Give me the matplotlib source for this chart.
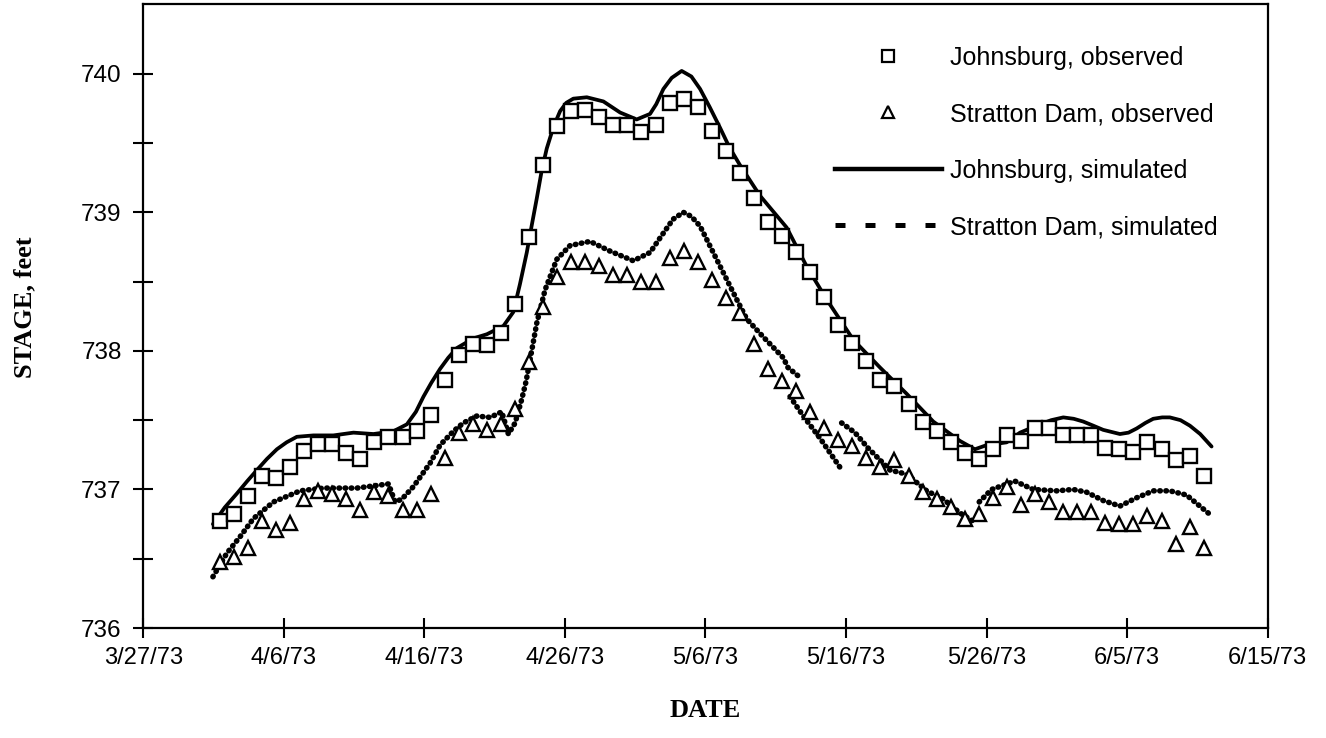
import numpy as np
import matplotlib
matplotlib.use("Agg")
import matplotlib.pyplot as plt
from matplotlib.lines import Line2D

# x values are days after 3/27/73
tick_days = [0, 10, 20, 30, 40, 50, 60, 70, 80]
tick_labels = ["3/27/73", "4/6/73", "4/16/73", "4/26/73", "5/6/73",
               "5/16/73", "5/26/73", "6/5/73", "6/15/73"]

# daily observations, 4/1/73 to 6/10/73
obs_days = np.arange(71) + 5.45

johnsburg_obs = [736.77, 736.82, 736.95, 737.10, 737.08, 737.16, 737.28, 737.33, 737.33, 737.26,
                 737.22, 737.34, 737.38, 737.38, 737.42, 737.54, 737.79, 737.97, 738.05, 738.04,
                 738.13, 738.34, 738.82, 739.34, 739.62, 739.73, 739.74, 739.69, 739.63, 739.63,
                 739.58, 739.63, 739.79, 739.82, 739.76, 739.59, 739.44, 739.28, 739.10, 738.93,
                 738.83, 738.71, 738.57, 738.39, 738.19, 738.06, 737.93, 737.79, 737.75, 737.62,
                 737.49, 737.42, 737.34, 737.26, 737.22, 737.29, 737.39, 737.35, 737.44, 737.44,
                 737.39, 737.39, 737.39, 737.30, 737.29, 737.27, 737.34, 737.29, 737.21, 737.24,
                 737.10]

stratton_obs = [736.48, 736.51, 736.58, 736.77, 736.71, 736.76, 736.93, 736.99, 736.97, 736.93,
                736.85, 736.98, 736.95, 736.85, 736.85, 736.97, 737.23, 737.41, 737.47, 737.43,
                737.47, 737.58, 737.92, 738.32, 738.53, 738.64, 738.64, 738.61, 738.55, 738.55,
                738.50, 738.50, 738.67, 738.72, 738.64, 738.51, 738.38, 738.27, 738.05, 737.87,
                737.78, 737.71, 737.56, 737.44, 737.36, 737.31, 737.23, 737.16, 737.21, 737.10,
                736.98, 736.93, 736.87, 736.79, 736.82, 736.94, 737.02, 736.89, 736.97, 736.91,
                736.84, 736.84, 736.84, 736.76, 736.75, 736.75, 736.81, 736.77, 736.61, 736.73,
                736.58]

johnsburg_sim_days = [4.96, 5.8, 6.66, 7.4, 8.09, 8.8, 9.51, 10.2, 10.93, 12.11, 13.53, 14.96,
                      16.38, 17.80, 18.76, 19.4, 19.94, 20.5, 21.12, 21.7, 22.31, 23.49, 24.45,
                      25.63, 26.33, 26.8, 27.29, 27.65, 28.00, 28.35, 28.71, 29.2, 29.66, 30.1,
                      30.60, 31.56, 32.74, 33.93, 35.11, 36.06, 36.5, 37.01, 37.6, 38.31, 39.0,
                      39.62, 40.3, 41.04, 41.7, 42.46, 43.88, 45.78, 47.20, 48.63, 50.52, 52.42,
                      54.32, 56.21, 58.11, 59.17, 60.01, 61.43, 62.38, 63.80, 64.6, 65.46, 66.2,
                      66.88, 67.6, 68.30, 69.49, 70.1, 70.68, 71.3, 71.86, 72.5, 73.04, 73.8,
                      74.47, 75.2, 76.01]
johnsburg_sim = [736.75, 736.87, 736.97, 737.06, 737.14, 737.22, 737.29, 737.34, 737.38, 737.39,
                 737.39, 737.41, 737.40, 737.42, 737.47, 737.56, 737.67, 737.77, 737.87, 737.95,
                 738.02, 738.09, 738.12, 738.18, 738.28, 738.48, 738.71, 738.91, 739.10, 739.30,
                 739.46, 739.62, 739.73, 739.79, 739.82, 739.83, 739.80, 739.72, 739.67, 739.71,
                 739.78, 739.89, 739.97, 740.02, 739.98, 739.89, 739.76, 739.61, 739.47, 739.34,
                 739.12, 738.89, 738.61, 738.37, 738.08, 737.88, 737.69, 737.49, 737.35, 737.29,
                 737.32, 737.34, 737.41, 737.47, 737.50, 737.52, 737.51, 737.49, 737.46, 737.43,
                 737.40, 737.41, 737.44, 737.48, 737.51, 737.52, 737.52, 737.50, 737.46, 737.40,
                 737.31]

# gaps (nan) where the simulated record breaks
stratton_sim_days = [4.96, 5.95, 6.90, 7.84, 9.27, 11.17, 12.82, 15.20, 17.45, 17.92,
                     18.40, 19.22, 20.41, 21.12, 22.07, 22.78, 23.73, 24.68, 25.51, 25.98,
                     26.46, 26.93, 27.24, 28.00, 28.59, 29.42, 30.37, 31.79, 33.21, 34.87,
                     36.06, 37.01, 37.7, 38.43, 39.0, 39.62, 40.80, 42.23, 42.94, 44.12, 45.54, 45.87,
                     46.59, np.nan, 46.02, 46.96, 48.15, 49.57, np.nan, 49.69, 50.64, 51.56,
                     53.13, 54.32, 55.74, 56.93, 58.11, 59.06, np.nan, 59.48, 60.36, 62.02,
                     63.32, 64.99, 66.17, 67.12, 68.30, 69.49, 70.68, 71.86, 73.04, 74.22,
                     75.89]
stratton_sim = [736.37, 736.54, 736.66, 736.79, 736.91, 736.99, 737.01, 737.01, 737.04, 736.91,
                736.93, 737.02, 737.19, 737.32, 737.42, 737.48, 737.53, 737.52, 737.56, 737.40,
                737.48, 737.65, 737.78, 738.20, 738.44, 738.66, 738.76, 738.79, 738.72, 738.65,
                738.71, 738.85, 738.95, 739.00, 738.97, 738.90, 738.66, 738.37, 738.23, 738.10, 737.95, 737.88,
                737.82, np.nan, 737.67, 737.53, 737.37, 737.16, np.nan, 737.48, 737.41, 737.30,
                737.14, 737.11, 736.99, 736.93, 736.83, 736.77, np.nan, 736.91, 737.00, 737.06,
                737.00, 736.99, 737.00, 736.98, 736.92, 736.88, 736.94, 736.99, 736.99, 736.96,
                736.82]

sans = ["Liberation Sans", "DejaVu Sans"]
serif = ["Liberation Serif", "DejaVu Serif"]

fig = plt.figure(figsize=(13.26, 7.38), dpi=100)
ax = fig.add_axes([0.108, 0.149, 0.848, 0.845])

ax.plot(johnsburg_sim_days, johnsburg_sim, color="black", lw=2.7,
        solid_capstyle="round", solid_joinstyle="round")
ax.plot(stratton_sim_days, stratton_sim, color="black", lw=4.0,
        linestyle=(0, (0.1, 1.0)), dash_capstyle="round")
ax.plot(obs_days, johnsburg_obs, linestyle="none", marker="s", markersize=10,
        markerfacecolor="white", markeredgecolor="black", markeredgewidth=1.7)
ax.plot(obs_days, stratton_obs, linestyle="none", marker="^", markersize=10.5,
        markerfacecolor="white", markeredgecolor="black", markeredgewidth=1.7)

ax.set_xlim(0, 80)
ax.set_ylim(736, 740.5)
ax.set_xticks(tick_days)
ax.set_xticklabels(tick_labels, fontfamily=sans, fontsize=17)
ax.set_yticks([736, 737, 738, 739, 740])
ax.set_yticks([736.5, 737.5, 738.5, 739.5], minor=True)
ax.set_yticklabels(["736", "737", "738", "739", "740"], fontfamily=sans, fontsize=17.5)
ax.tick_params(which="both", direction="inout", length=15, width=1.5, colors="black")
ax.tick_params(axis="y", pad=8)
ax.tick_params(axis="x", pad=6)
for s in ax.spines.values():
    s.set_linewidth(1.6)

ax.set_xlabel("DATE", fontfamily=serif, fontweight="bold", fontsize=19, labelpad=22)
ax.set_ylabel("STAGE, feet", fontfamily=serif, fontweight="bold", fontsize=19)
ax.yaxis.set_label_coords(-0.095, 0.515)

handles = [
    Line2D([], [], linestyle="none", marker="s", markersize=8.5,
           markerfacecolor="white", markeredgecolor="black", markeredgewidth=1.6),
    Line2D([], [], linestyle="none", marker="^", markersize=8,
           markerfacecolor="white", markeredgecolor="black", markeredgewidth=1.6),
    Line2D([], [], color="black", lw=3.2),
    Line2D([], [], color="black", lw=3.6, linestyle=(0, (2, 4))),
]
labels = ["Johnsburg, observed", "Stratton Dam, observed",
          "Johnsburg, simulated", "Stratton Dam, simulated"]
ax.legend(handles, labels, loc="upper left", bbox_to_anchor=(0.615, 0.934),
          frameon=False, borderpad=0, borderaxespad=0, handlelength=4.3,
          handletextpad=0.3, labelspacing=1.3, prop={"family": sans, "size": 18})

fig.savefig("out.png", dpi=100)
